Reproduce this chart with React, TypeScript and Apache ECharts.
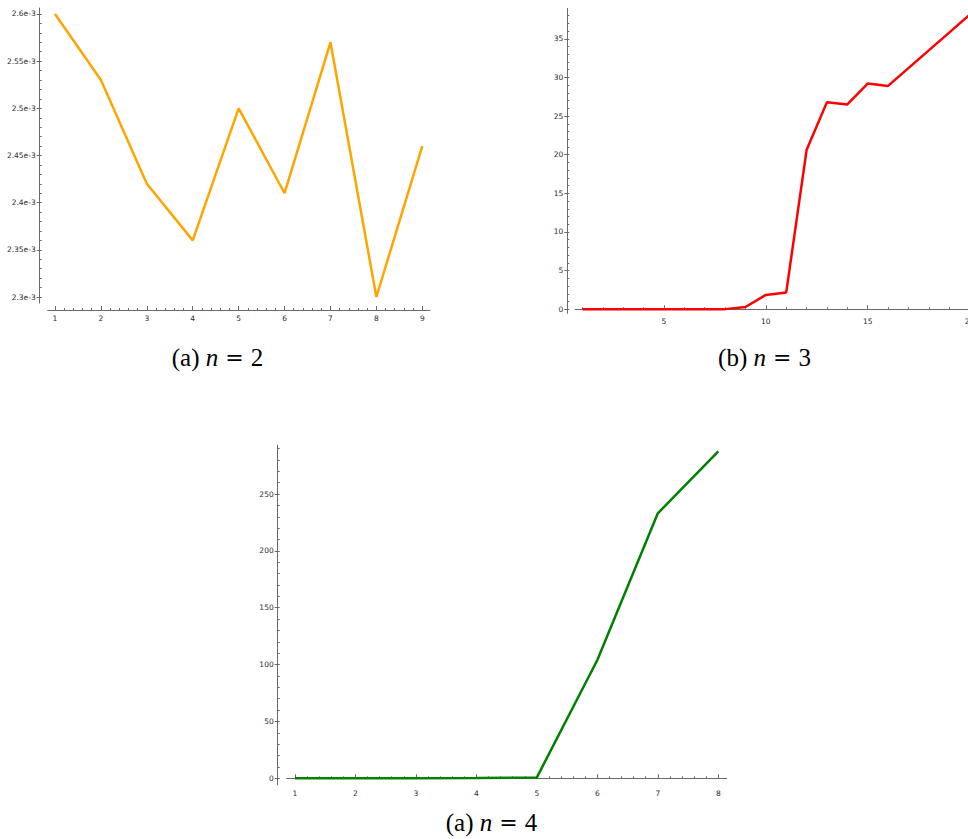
import React, { useEffect, useRef } from "react";
import * as echarts from "echarts";

// ---- data ----
const xA = [1, 2, 3, 4, 5, 6, 7, 8, 9];
const yA = [2.6e-3, 2.53e-3, 2.42e-3, 2.36e-3, 2.5e-3, 2.41e-3, 2.57e-3, 2.3e-3, 2.46e-3];

const xB = [1, 2, 3, 4, 5, 6, 7, 8, 9, 10, 11, 12, 13, 14, 15, 16, 17, 18, 19, 20];
const yB = [0, 0, 0, 0, 0, 0, 0, 0.02, 0.3, 1.86, 2.16, 20.6, 26.8, 26.5, 29.2, 28.9, 31.2, 33.5, 35.8, 38.1];

const xC = [1, 2, 3, 4, 5, 6, 7, 8];
const yC = [0, 0, 0, 0.3, 0.8, 104, 233, 287.6];

// tick labels
const ticksAX = [1, 2, 3, 4, 5, 6, 7, 8, 9];
const labelsAX = ["1", "2", "3", "4", "5", "6", "7", "8", "9"];
const ticksAY = [2.3e-3, 2.35e-3, 2.4e-3, 2.45e-3, 2.5e-3, 2.55e-3, 2.6e-3];
const labelsAY = ["2.3e-3", "2.35e-3", "2.4e-3", "2.45e-3", "2.5e-3", "2.55e-3", "2.6e-3"];
const ticksBX = [5, 10, 15, 20];
const labelsBX = ["5", "10", "15", "20"];
const ticksBY = [0, 5, 10, 15, 20, 25, 30, 35];
const labelsBY = ["0", "5", "10", "15", "20", "25", "30", "35"];
const ticksCX = [1, 2, 3, 4, 5, 6, 7, 8];
const labelsCX = ["1", "2", "3", "4", "5", "6", "7", "8"];
const ticksCY = [0, 50, 100, 150, 200, 250];
const labelsCY = ["0", "50", "100", "150", "200", "250"];

const captions = [
  { tag: "(a) ", n: "2" },
  { tag: "(b) ", n: "3" },
  { tag: "(a) ", n: "4" },
];

// minor tick positions (axis decoration only)
function steps(from: number, to: number, step: number): number[] {
  const out: number[] = [];
  const n = Math.round((to - from) / step);
  for (let i = 0; i <= n; i++) out.push(+(from + i * step).toPrecision(10));
  return out;
}

const AXIS_COLOR = "#6a6a6a";
const LABEL_COLOR = "#2a2a2a";
const LABEL_FONT = { fontSize: 7.5, fontFamily: "DejaVu Sans", color: LABEL_COLOR };
const SERIF = "'Times New Roman', 'Liberation Serif', Times, serif";

function fmt(vals: number[], labels: string[]) {
  return (v: number) => {
    for (let i = 0; i < vals.length; i++) {
      const tol = Math.max(Math.abs(vals[i]), 1e-9) * 1e-6;
      if (Math.abs(v - vals[i]) <= tol) return labels[i];
    }
    return "";
  };
}

function xMajor(grid: number, min: number, max: number, vals: number[], labels: string[], offset: number, onZeroIdx: number | null) {
  return {
    type: "value",
    gridIndex: grid,
    min,
    max,
    position: "bottom",
    offset,
    axisLine: {
      show: true,
      onZero: onZeroIdx !== null,
      onZeroAxisIndex: onZeroIdx === null ? undefined : onZeroIdx,
      lineStyle: { color: AXIS_COLOR, width: 1 },
    },
    axisTick: { show: true, inside: true, length: 4, customValues: vals, lineStyle: { color: AXIS_COLOR } },
    axisLabel: { show: true, customValues: vals, formatter: fmt(vals, labels), margin: 4, ...LABEL_FONT },
    splitLine: { show: false },
  };
}

function xMinor(grid: number, min: number, max: number, vals: number[], offset: number, onZeroIdx: number | null) {
  return {
    type: "value",
    gridIndex: grid,
    min,
    max,
    position: "bottom",
    offset,
    axisLine: {
      show: false,
      onZero: onZeroIdx !== null,
      onZeroAxisIndex: onZeroIdx === null ? undefined : onZeroIdx,
    },
    axisTick: { show: true, inside: true, length: 2, customValues: vals, lineStyle: { color: AXIS_COLOR } },
    axisLabel: { show: false },
    splitLine: { show: false },
  };
}

function yMajor(grid: number, min: number, max: number, vals: number[], labels: string[], offset: number) {
  return {
    type: "value",
    gridIndex: grid,
    min,
    max,
    position: "left",
    offset,
    axisLine: { show: true, onZero: false, lineStyle: { color: AXIS_COLOR, width: 1 } },
    axisTick: { show: true, inside: false, length: 3, customValues: vals, lineStyle: { color: AXIS_COLOR } },
    axisLabel: { show: true, customValues: vals, formatter: fmt(vals, labels), margin: 4, ...LABEL_FONT },
    splitLine: { show: false },
  };
}

function yMinor(grid: number, min: number, max: number, vals: number[], offset: number) {
  return {
    type: "value",
    gridIndex: grid,
    min,
    max,
    position: "left",
    offset,
    axisLine: { show: false, onZero: false },
    axisTick: { show: true, inside: true, length: 2, customValues: vals, lineStyle: { color: AXIS_COLOR } },
    axisLabel: { show: false },
    splitLine: { show: false },
  };
}

function caption(i: number, cx: number, cy: number) {
  const c = captions[i];
  return {
    type: "text",
    x: cx,
    y: cy,
    style: {
      text: `{a|${c.tag}}{n|n}{e| = }{a|${c.n}}`,
      align: "center",
      verticalAlign: "middle",
      fill: "#000",
      rich: {
        a: { fontFamily: SERIF, fontSize: 25, fill: "#000" },
        n: { fontFamily: SERIF, fontStyle: "italic", fontSize: 25, fill: "#000" },
        e: { fontFamily: "DejaVu Serif", fontSize: 22, fill: "#000" },
      },
    },
  };
}

export default function App() {
  const ref = useRef<HTMLDivElement>(null);
  useEffect(() => {
    if (!ref.current) return;
    const chart = echarts.init(ref.current, null, { renderer: "svg" });

    // axis extents
    const A = { xmin: 0.841, xmax: 9.168, ymin: 2.29364e-3, ymax: 2.60636e-3 };
    const B = { xmin: 0.632, xmax: 20.39, ymin: -0.52, ymax: 38.94 };
    const C = { xmin: 0.863, xmax: 8.139, ymin: -5.9, ymax: 293.1 };

    const option: any = {
      animation: false,
      backgroundColor: "#fff",
      grid: [
        { left: 47.7, top: 8, width: 382.3, height: 295, outerBoundsMode: "none", containLabel: false },
        { left: 575, top: 8.3, width: 402.5, height: 305, outerBoundsMode: "none", containLabel: false },
        { left: 286.7, top: 445, width: 440, height: 340, outerBoundsMode: "none", containLabel: false },
      ],
      xAxis: [
        xMajor(0, A.xmin, A.xmax, ticksAX, labelsAX, 7, null),
        xMinor(0, A.xmin, A.xmax, steps(1, 9, 0.2), 7, null),
        xMajor(1, B.xmin, B.xmax, ticksBX, labelsBX, 0, 2),
        xMinor(1, B.xmin, B.xmax, steps(1, 20, 1), 0, 2),
        xMajor(2, C.xmin, C.xmax, ticksCX, labelsCX, 0, 4),
        xMinor(2, C.xmin, C.xmax, steps(1, 8, 0.2), 0, 4),
      ],
      yAxis: [
        yMajor(0, A.ymin, A.ymax, ticksAY, labelsAY, 8),
        yMinor(0, A.ymin, A.ymax, steps(2.3e-3, 2.6e-3, 0.01e-3), 8),
        yMajor(1, B.ymin, B.ymax, ticksBY, labelsBY, 7.7),
        yMinor(1, B.ymin, B.ymax, steps(0, 38, 1), 7.7),
        yMajor(2, C.ymin, C.ymax, ticksCY, labelsCY, 9),
        yMinor(2, C.ymin, C.ymax, steps(0, 290, 10), 9),
      ],
      series: [
        {
          type: "line",
          xAxisIndex: 0,
          yAxisIndex: 0,
          data: xA.map((x, i) => [x, yA[i]]),
          showSymbol: false,
          lineStyle: { color: "#FFA500", width: 2.5 },
        },
        {
          type: "line",
          xAxisIndex: 2,
          yAxisIndex: 2,
          data: xB.map((x, i) => [x, yB[i]]),
          showSymbol: false,
          lineStyle: { color: "#FF0000", width: 2.5 },
        },
        {
          type: "line",
          xAxisIndex: 4,
          yAxisIndex: 4,
          data: xC.map((x, i) => [x, yC[i]]),
          showSymbol: false,
          lineStyle: { color: "#008000", width: 2.5 },
        },
      ],
      graphic: [caption(0, 217.5, 357), caption(1, 764.5, 357), caption(2, 491.5, 822)],
    };
    chart.setOption(option);
    return () => chart.dispose();
  }, []);

  return (
    <div
      ref={ref}
      style={{ position: "absolute", left: 0, top: 0, width: 968, height: 839, background: "#fff" }}
    />
  );
}
